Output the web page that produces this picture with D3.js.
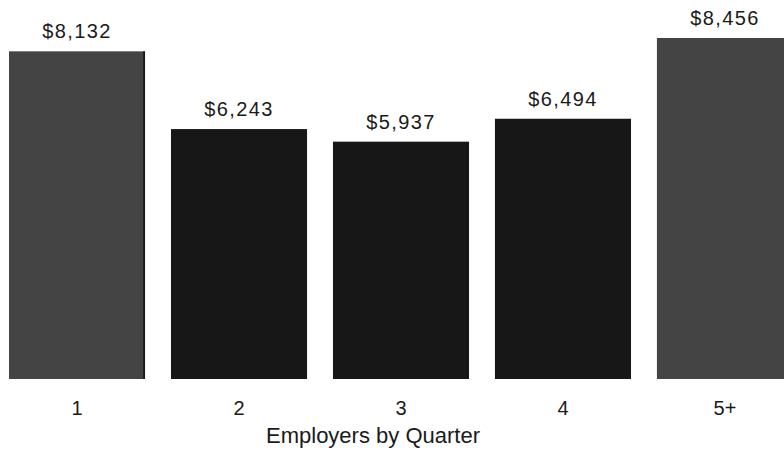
<!DOCTYPE html>
<html>
<head>
<meta charset="utf-8">
<script src="https://cdn.jsdelivr.net/npm/d3@7"></script>
<style>
  html, body { margin: 0; padding: 0; background: #fff; }
  svg { display: block; }
  text { font-family: "Liberation Sans", Arial, Helvetica, sans-serif; fill: #1a1a1a; }
</style>
</head>
<body>
<svg id="chart" width="784" height="451"></svg>
<script>
// Average earnings by number of quarters with the same employer
const categories = ["1", "2", "3", "4", "5+"];
const values = [8132, 6243, 5937, 6494, 8456];
const valueLabels = ["$8,132", "$6,243", "$5,937", "$6,494", "$8,456"];
const barColors = ["#444444", "#171717", "#171717", "#171717", "#444444"];
const axisTitle = "Employers by Quarter";

const width = 784, height = 451;
const baseline = 379;

const svg = d3.select("#chart");

const x = d3.scaleBand()
  .domain(categories)
  .range([9, 793])
  .paddingInner(0.16)
  .paddingOuter(0);

const y = d3.scaleLinear()
  .domain([0, d3.max(values)])
  .range([386, 38]);

const data = categories.map((c, i) => ({ c, v: values[i], label: valueLabels[i], color: barColors[i] }));

svg.append("g")
  .selectAll("rect")
  .data(data)
  .join("rect")
  .attr("x", d => x(d.c))
  .attr("y", d => y(d.v))
  .attr("width", x.bandwidth())
  .attr("height", d => baseline - y(d.v))
  .attr("fill", d => d.color);

// dark right edge on the first bar
svg.append("line")
  .attr("x1", x(categories[0]) + x.bandwidth() - 1)
  .attr("x2", x(categories[0]) + x.bandwidth() - 1)
  .attr("y1", y(values[0]))
  .attr("y2", baseline)
  .attr("stroke", "#111")
  .attr("stroke-width", 1.5);

// value labels
svg.append("g")
  .selectAll("text")
  .data(data)
  .join("text")
  .attr("x", d => x(d.c) + x.bandwidth() / 2)
  .attr("y", d => y(d.v) - 13)
  .attr("text-anchor", "middle")
  .style("font-size", "20px")
  .style("letter-spacing", "1.4px")
  .text(d => d.label);

// category axis
const xAxis = d3.axisBottom(x).tickSize(0).tickPadding(0);
const gx = svg.append("g")
  .attr("transform", `translate(0, ${baseline + 36})`)
  .call(xAxis);
gx.select(".domain").remove();
gx.selectAll("text")
  .attr("dy", 0)
  .style("font-size", "20px")
  .style("font-family", "'Liberation Sans', Arial, sans-serif")
  .attr("fill", "#1a1a1a");

svg.append("text")
  .attr("x", 373)
  .attr("y", 443)
  .attr("text-anchor", "middle")
  .style("font-size", "22px")
  .text(axisTitle);
</script>
</body>
</html>
